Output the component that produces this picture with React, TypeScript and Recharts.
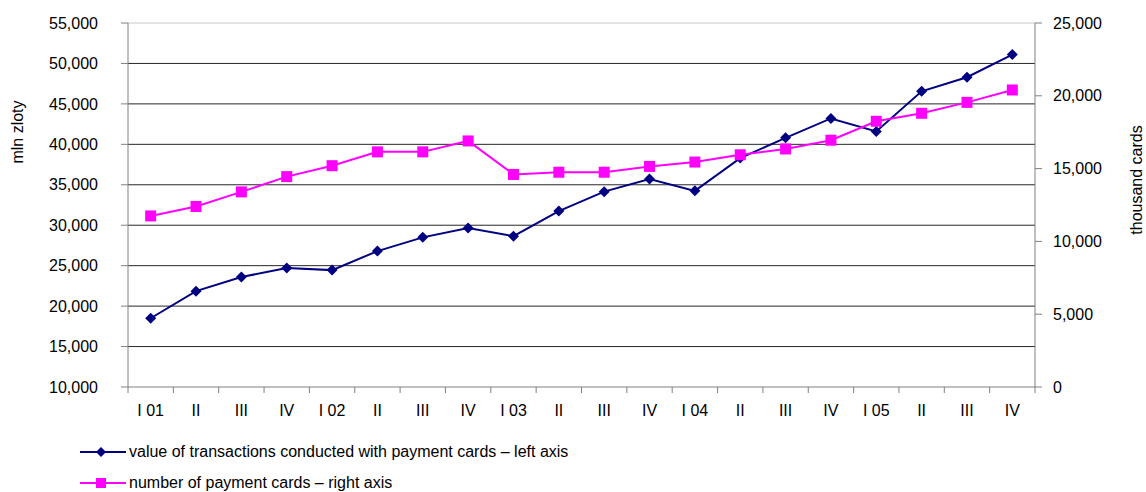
import React from 'react';
import { LineChart, Line, XAxis, YAxis, CartesianGrid, ReferenceLine } from 'recharts';

const quarters = ['I 01', 'II', 'III', 'IV', 'I 02', 'II', 'III', 'IV', 'I 03', 'II', 'III', 'IV', 'I 04', 'II', 'III', 'IV', 'I 05', 'II', 'III', 'IV'];
const transactionValue = [18500, 21850, 23600, 24700, 24450, 26800, 28500, 29650, 28650, 31750, 34150, 35700, 34250, 38300, 40800, 43200, 41600, 46550, 48300, 51100];
const cardCount = [11750, 12400, 13400, 14450, 15200, 16150, 16150, 16900, 14600, 14750, 14750, 15150, 15450, 15950, 16350, 16950, 18250, 18800, 19550, 20400];
const leftTicks = [10000, 15000, 20000, 25000, 30000, 35000, 40000, 45000, 50000, 55000];
const rightTicks = [0, 5000, 10000, 15000, 20000, 25000];

const NAVY = '#000080';
const MAGENTA = '#FF00FF';
const FONT = '"Liberation Sans", Arial, sans-serif';
const FS = 16;

const W = 1146;
const H = 492;
const LEFT_W = 128;
const RIGHT_W = 111;
const halfBand = (W - LEFT_W - RIGHT_W) / quarters.length / 2;

const data = quarters.map((q, i) => ({ q, i, value: transactionValue[i], cards: cardCount[i] }));

const fmt = (v: number) => v.toLocaleString('en-US');

const Diamond = (props: any) => {
  const { cx, cy } = props;
  if (cx == null || cy == null) return null;
  const r = 5.5;
  return <polygon points={`${cx},${cy - r} ${cx + r},${cy} ${cx},${cy + r} ${cx - r},${cy}`} fill={NAVY} />;
};

const Square = (props: any) => {
  const { cx, cy } = props;
  if (cx == null || cy == null) return null;
  const s = 5.5;
  return <rect x={cx - s} y={cy - s} width={s * 2} height={s * 2} fill={MAGENTA} />;
};

const QuarterTick = (props: any) => {
  const { x, y, payload, index } = props;
  const axisY = y - 7;
  return (
    <g>
      <line x1={x - halfBand} y1={axisY} x2={x - halfBand} y2={axisY + 6} stroke="#808080" />
      {index === quarters.length - 1 && (
        <line x1={x + halfBand} y1={axisY} x2={x + halfBand} y2={axisY + 6} stroke="#808080" />
      )}
      <text x={x} y={axisY + 23} dy="0.355em" textAnchor="middle" fill="#000" fontSize={FS} fontFamily={FONT}>
        {payload.value}
      </text>
    </g>
  );
};

const legendRow = (color: string, marker: 'diamond' | 'square', label: string, top: number) => (
  <div style={{ position: 'absolute', left: 80, top: top - 10, height: 20, display: 'flex', alignItems: 'center' }}>
    <svg width={47} height={20}>
      <line x1={0} y1={10} x2={46} y2={10} stroke={color} strokeWidth={2} />
      {marker === 'diamond' ? (
        <polygon points="21,5 26,10 21,15 16,10" fill={color} />
      ) : (
        <rect x={16} y={5} width={10} height={10} fill={color} />
      )}
    </svg>
    <span style={{ fontFamily: FONT, fontSize: FS, color: '#000', marginLeft: 2 }}>{label}</span>
  </div>
);

export default function App() {
  return (
    <div style={{ position: 'absolute', left: 0, top: 0, width: W, height: H, background: '#fff' }}>
      <LineChart width={W} height={H} data={data} margin={{ top: 23, right: 0, left: 0, bottom: 75 }}>
        <CartesianGrid
          yAxisId="left"
          vertical={false}
          horizontalValues={[15000, 20000, 25000, 30000, 35000, 40000, 45000, 50000]}
          stroke="#000"
          strokeOpacity={0.85}
        />
        <ReferenceLine yAxisId="left" y={55000} stroke="#c8c8c8" />
        <XAxis
          dataKey="q"
          interval={0}
          height={30}
          padding={{ left: halfBand, right: halfBand }}
          tickLine={false}
          tickSize={5}
          tickMargin={2}
          axisLine={{ stroke: '#808080' }}
          tick={<QuarterTick />}
        />
        <YAxis
          yAxisId="left"
          width={LEFT_W}
          domain={[10000, 55000]}
          ticks={leftTicks}
          interval={0}
          tickFormatter={fmt}
          axisLine={{ stroke: '#808080' }}
          tickLine={{ stroke: '#808080' }}
          tickSize={7}
          tickMargin={23}
          tick={{ fill: '#000', fontSize: FS, fontFamily: FONT }}
        />
        <YAxis
          yAxisId="right"
          orientation="right"
          width={RIGHT_W}
          domain={[0, 25000]}
          ticks={rightTicks}
          interval={0}
          tickFormatter={fmt}
          axisLine={{ stroke: '#808080' }}
          tickLine={{ stroke: '#808080' }}
          tickSize={7}
          tickMargin={11}
          tick={{ fill: '#000', fontSize: FS, fontFamily: FONT, textAnchor: 'start' }}
        />
        <Line
          yAxisId="left"
          dataKey="value"
          stroke={NAVY}
          strokeWidth={2}
          dot={<Diamond />}
          activeDot={false}
          isAnimationActive={false}
        />
        <Line
          yAxisId="right"
          dataKey="cards"
          stroke={MAGENTA}
          strokeWidth={2}
          dot={<Square />}
          activeDot={false}
          isAnimationActive={false}
        />
      </LineChart>
      <div
        style={{
          position: 'absolute', left: 18, top: 132, transform: 'translate(-50%, -50%) rotate(-90deg)',
          fontFamily: FONT, fontSize: FS, whiteSpace: 'nowrap', color: '#000',
        }}
      >
        mln zloty
      </div>
      <div
        style={{
          position: 'absolute', left: 1137, top: 180, transform: 'translate(-50%, -50%) rotate(-90deg)',
          fontFamily: FONT, fontSize: FS, whiteSpace: 'nowrap', color: '#000',
        }}
      >
        thousand cards
      </div>
      {legendRow(NAVY, 'diamond', 'value of transactions conducted with payment cards – left axis', 452)}
      {legendRow(MAGENTA, 'square', 'number of payment cards – right axis', 483)}
    </div>
  );
}
